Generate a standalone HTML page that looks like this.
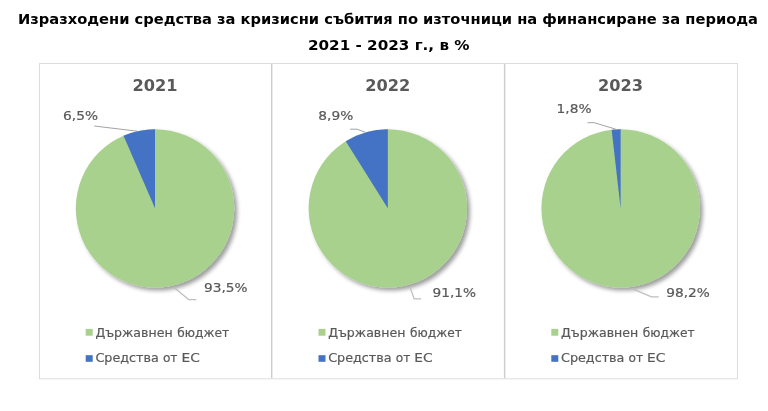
<!DOCTYPE html>
<html lang="bg"><head><meta charset="utf-8"><title>Chart</title>
<style>
html,body{margin:0;padding:0;background:#fff;}
body{width:768px;height:411px;overflow:hidden;}
svg{display:block;}
text{font-family:"DejaVu Sans", "Liberation Sans", sans-serif;}
.t{font-weight:bold;font-size:14.66px;fill:#000;}
.y{font-weight:bold;font-size:16px;fill:#595959;}
.l{font-size:12.3px;fill:#595959;stroke:#595959;stroke-width:0.2px;}
</style></head><body>
<svg width="768" height="411" viewBox="0 0 768 411">
<defs>
<filter id="sh" x="-20%" y="-20%" width="140%" height="140%">
<feGaussianBlur in="SourceAlpha" stdDeviation="2"/>
<feOffset dx="2.8" dy="2.8" result="o"/>
<feComponentTransfer><feFuncA type="linear" slope="0.39"/></feComponentTransfer>
<feMerge><feMergeNode/><feMergeNode in="SourceGraphic"/></feMerge>
</filter>
</defs>
<rect x="0" y="0" width="768" height="411" fill="#fff"/>

<text class="t" x="18" y="23.5" textLength="740" lengthAdjust="spacingAndGlyphs">Изразходени средства за кризисни събития по източници на финансиране за периода</text>
<text class="t" x="308" y="50.2" textLength="161.5" lengthAdjust="spacingAndGlyphs">2021 - 2023 г., в %</text>
<rect x="39.5" y="63.5" width="698" height="315.3" fill="none" stroke="#dddddd" stroke-width="1"/>
<g stroke="#cdcdcd" stroke-width="1.4"><line x1="271.7" y1="64" x2="271.7" y2="378.3"/><line x1="504.6" y1="64" x2="504.6" y2="378.3"/></g>
<text class="y" x="132.5" y="90.5" textLength="45" lengthAdjust="spacingAndGlyphs">2021</text>
<circle cx="155" cy="208.35" r="79.2" fill="#a9d18e" filter="url(#sh)"/><path d="M155 208.35 L123.55 135.66 A79.2 79.2 0 0 1 155 129.14999999999998 Z" fill="#4472c4"/>
<text class="y" x="365.3" y="90.5" textLength="45" lengthAdjust="spacingAndGlyphs">2022</text>
<circle cx="387.8" cy="208.35" r="79.2" fill="#a9d18e" filter="url(#sh)"/><path d="M387.8 208.35 L345.78 141.21 A79.2 79.2 0 0 1 387.8 129.14999999999998 Z" fill="#4472c4"/>
<text class="y" x="598.1" y="90.5" textLength="45" lengthAdjust="spacingAndGlyphs">2023</text>
<circle cx="620.6" cy="208.35" r="79.2" fill="#a9d18e" filter="url(#sh)"/><path d="M620.6 208.35 L611.66 129.66 A79.2 79.2 0 0 1 620.6 129.14999999999998 Z" fill="#4472c4"/>
<g fill="none" stroke="#8c8c8c" stroke-width="0.8">
<polyline points="94.3,126 137.3,131.2"/>
<polyline points="350.1,129.2 356.8,129.2 365.4,132.2"/>
<polyline points="587.5,122.7 594.2,122.7 615.6,129.1"/>
</g><g fill="none" stroke="#bfbfbf" stroke-width="1.25">
<polyline points="174,287.6 188.7,299.6 196.4,299.6"/>
<polyline points="410.1,287.4 414.1,298.8 421.1,298.8"/>
<polyline points="631.4,288.4 651.5,296.8 658.8,296.8"/>
</g>
<text class="l" x="63" y="120" textLength="35" lengthAdjust="spacingAndGlyphs">6,5%</text>
<text class="l" x="204" y="291.8" textLength="43.6" lengthAdjust="spacingAndGlyphs">93,5%</text>
<text class="l" x="318.3" y="119.9" textLength="35" lengthAdjust="spacingAndGlyphs">8,9%</text>
<text class="l" x="432.5" y="297.3" textLength="43.6" lengthAdjust="spacingAndGlyphs">91,1%</text>
<text class="l" x="556.6" y="113.2" textLength="35" lengthAdjust="spacingAndGlyphs">1,8%</text>
<text class="l" x="666.3" y="296.5" textLength="43.6" lengthAdjust="spacingAndGlyphs">98,2%</text>
<rect x="85.7" y="328.9" width="7" height="6.8" fill="#a9d18e"/>
<rect x="85.7" y="355.2" width="7" height="6.6" fill="#4472c4"/>
<text class="l" y="337.1"><tspan x="95.4" textLength="77.2" lengthAdjust="spacingAndGlyphs">Държавнен</tspan> <tspan x="177.2" textLength="51.8" lengthAdjust="spacingAndGlyphs">бюджет</tspan></text>
<text class="l" y="362.1"><tspan x="95.4" textLength="63.4" lengthAdjust="spacingAndGlyphs">Средства</tspan> <tspan x="162.9" textLength="14.6" lengthAdjust="spacingAndGlyphs">от</tspan> <tspan x="181.5" textLength="18.2" lengthAdjust="spacingAndGlyphs">ЕС</tspan></text>
<rect x="318.5" y="328.9" width="7" height="6.8" fill="#a9d18e"/>
<rect x="318.5" y="355.2" width="7" height="6.6" fill="#4472c4"/>
<text class="l" y="337.1"><tspan x="328.2" textLength="77.2" lengthAdjust="spacingAndGlyphs">Държавнен</tspan> <tspan x="410.0" textLength="51.8" lengthAdjust="spacingAndGlyphs">бюджет</tspan></text>
<text class="l" y="362.1"><tspan x="328.2" textLength="63.4" lengthAdjust="spacingAndGlyphs">Средства</tspan> <tspan x="395.7" textLength="14.6" lengthAdjust="spacingAndGlyphs">от</tspan> <tspan x="414.3" textLength="18.2" lengthAdjust="spacingAndGlyphs">ЕС</tspan></text>
<rect x="551.3000000000001" y="328.9" width="7" height="6.8" fill="#a9d18e"/>
<rect x="551.3000000000001" y="355.2" width="7" height="6.6" fill="#4472c4"/>
<text class="l" y="337.1"><tspan x="561.0" textLength="77.2" lengthAdjust="spacingAndGlyphs">Държавнен</tspan> <tspan x="642.8" textLength="51.8" lengthAdjust="spacingAndGlyphs">бюджет</tspan></text>
<text class="l" y="362.1"><tspan x="561.0" textLength="63.4" lengthAdjust="spacingAndGlyphs">Средства</tspan> <tspan x="628.5" textLength="14.6" lengthAdjust="spacingAndGlyphs">от</tspan> <tspan x="647.1" textLength="18.2" lengthAdjust="spacingAndGlyphs">ЕС</tspan></text>
</svg></body></html>
